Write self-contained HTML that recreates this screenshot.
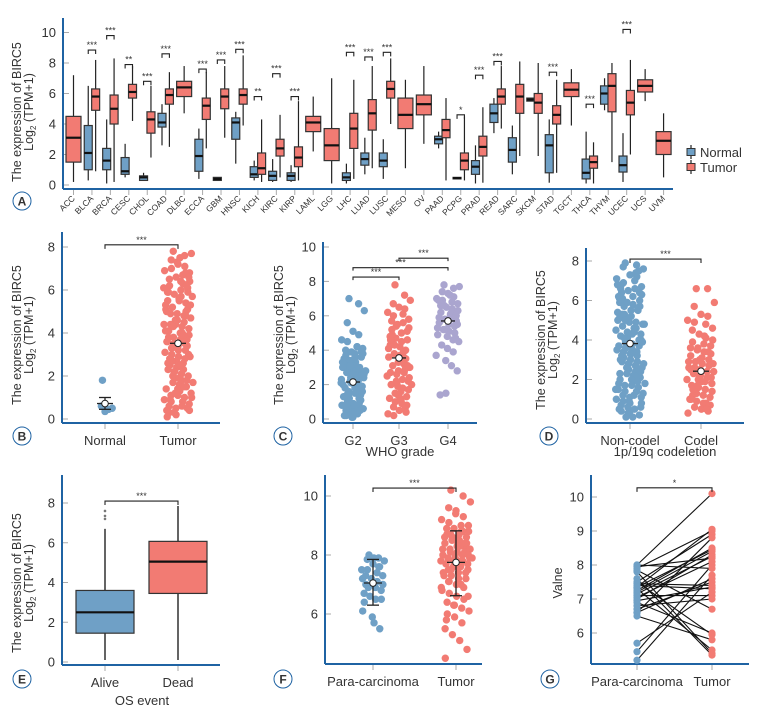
<!DOCTYPE html>
<html><head><meta charset="utf-8">
<style>
html,body{margin:0;padding:0;background:#fff;}
svg{display:block;font-family:"Liberation Sans",sans-serif;}
text{fill:#333;}
</style></head>
<body>
<svg id="fig" width="759" height="716" viewBox="0 0 759 716"></svg>
<script>
// ---------- Panel A data ----------
const aCats=["ACC","BLCA","BRCA","CESC","CHOL","COAD","DLBC","ECCA","GBM","HNSC","KICH","KIRC","KIRP","LAML","LGG","LHC","LUAD","LUSC","MESO","OV","PAAD","PCPG","PRAD","READ","SARC","SKCM","STAD","TGCT","THCA","THYM","UCEC","UCS","UVM"];
const aTumor=[[0.2,1.5,3.1,4.5,7.2],[0.9,4.9,5.8,6.3,8.2],[0.2,4.0,5.0,5.9,8.3],[4.2,5.7,6.1,6.6,7.8],[1.8,3.4,4.3,4.8,6.5],[2.5,5.3,5.9,6.3,7.4],[4.7,5.8,6.4,6.8,7.8],[2.4,4.3,5.2,5.7,7.4],[3.1,5.0,5.8,6.3,7.8],[3.9,5.3,5.9,6.3,8.5],[0.2,0.7,1.1,2.1,4.3],[0.5,1.9,2.4,3.0,4.6],[0.3,1.2,1.8,2.5,5.5],[2.2,3.5,4.1,4.5,5.8],[0.1,1.6,2.6,3.7,7.0],[0.4,2.4,3.7,4.7,6.9],[1.1,3.6,4.7,5.6,7.8],[4.0,5.7,6.3,6.8,8.3],[1.1,3.7,4.6,5.7,6.9],[2.7,4.6,5.3,5.9,7.8],[0.3,3.1,3.6,4.3,5.7],[0.3,1.0,1.6,2.1,4.5],[0.15,1.9,2.5,3.2,5.1],[3.7,5.3,5.8,6.3,7.8],[1.9,4.7,5.8,6.6,8.1],[1.9,4.7,5.4,6.0,8.0],[0.8,4.0,4.6,5.2,6.9],[3.9,5.8,6.25,6.7,7.6],[0.1,1.1,1.5,1.9,2.8],[1.5,4.8,6.5,7.3,8.0],[2.0,4.6,5.4,6.2,8.2],[5.5,6.1,6.5,6.9,7.6],[0.5,2.0,2.9,3.5,4.7]];
const aNormal=[null,[0.3,1.0,2.1,3.9,6.5],[0.1,1.0,1.6,2.4,4.3],[0.5,0.7,0.9,1.8,2.7],[0.3,0.3,0.5,0.6,0.8],[2.6,3.8,4.1,4.7,5.3],null,[0.4,0.9,1.9,3.0,3.7],[0.3,0.3,0.4,0.5,0.5],[1.4,3.0,4.1,4.4,4.8],[0.3,0.5,0.7,1.2,1.6],[0.2,0.3,0.6,0.9,1.7],[0.2,0.3,0.6,0.8,1.3],null,null,[0.1,0.3,0.5,0.8,1.4],[0.7,1.3,1.7,2.1,3.1],[0.4,1.2,1.6,2.1,3.0],null,null,[2.4,2.7,3.0,3.2,3.5],[0.4,0.4,0.45,0.5,0.5],[0.1,0.7,1.2,1.6,2.6],[3.4,4.1,4.7,5.3,5.7],[0.7,1.5,2.3,3.1,3.9],[5.5,5.5,5.6,5.7,5.7],[0.15,0.8,2.6,3.3,4.3],null,[0.1,0.4,0.8,1.7,3.5],[4.9,5.3,6.0,6.5,7.0],[0.2,0.85,1.3,1.9,3.4],null,null];
const aSig=[null,"***","***","**","***","***",null,"***","***","***","**","***","***",null,null,"***","***","***",null,null,null,"*","***","***",null,null,"***",null,"***",null,"***",null,null];
const aSigY=[0,8.85,9.8,7.9,6.8,8.6,0,7.6,8.2,8.9,5.8,7.3,5.8,0,0,8.7,8.4,8.7,0,0,0,4.6,7.2,8.1,0,0,7.4,0,5.3,0,10.2,0,0];
const aTicks=[0,2,4,6,8,10];
// ---------- Panel B ----------
const bCats=["Normal","Tumor"];
const bNormal=[1.8,0.45,0.5,0.6,0.35];
const bTumor=[7.8,7.6,7.7,7.4,7.2,7.1,6.9,7.0,6.7,6.8,6.5,6.6,6.3,6.4,6.2,6.0,6.1,5.9,5.8,5.7,5.9,5.5,5.6,5.4,5.3,5.2,5.5,5.0,5.1,4.9,4.8,4.7,4.9,4.6,4.5,4.4,4.6,4.3,4.2,4.1,4.4,4.0,3.9,3.8,4.0,3.7,3.6,3.5,3.7,3.4,3.3,3.2,3.5,3.1,3.0,2.9,3.2,2.8,2.7,2.6,2.9,2.5,2.4,2.3,2.6,2.2,2.1,2.0,2.3,1.9,1.8,1.7,2.0,1.6,1.5,1.4,1.7,1.3,1.2,1.1,1.4,1.0,0.9,0.8,1.1,0.7,0.6,0.5,0.8,0.4,0.3,0.2,0.5,0.1,0.3,6.4,5.1,3.6,2.2,4.8,5.7,3.3,1.9,6.8,4.1,2.7,3.9,5.3,0.9,7.3,1.5,6.1,4.4,2.4,3.0,5.9,1.2,0.6,6.6,3.8,7.5,6.2,5.0,4.3,2.5,1.8,0.4,3.4,2.8,1.0];
const bMeans=[0.72,3.52];
const bSd=[[0.45,1.0],null];
const bTicks=[0,2,4,6,8];
// ---------- Panel C ----------
const cCats=["G2","G3","G4"];
const cG2=[7.0,6.7,6.3,5.6,5.1,4.9,4.6,4.5,4.2,4.1,4.0,3.9,4.2,3.8,3.7,3.6,3.9,3.5,3.4,3.3,3.6,3.2,3.1,3.0,3.3,2.9,2.8,2.7,3.0,2.6,2.5,2.4,2.7,2.3,2.2,2.1,2.4,2.0,1.9,1.8,2.1,1.7,1.6,1.5,1.8,1.4,1.3,1.2,1.5,1.1,1.0,0.9,1.2,0.8,0.7,0.6,0.9,0.5,0.4,0.3,0.6,0.2,0.1,0.4,0.2,2.2,1.9,2.5,1.3,3.1,0.8,2.8,1.6,3.5,0.5,2.0,1.1,3.8,2.6,1.4,0.3,1.7,2.3,0.9,0.1];
const cG3=[7.8,7.2,6.9,6.7,6.5,6.4,6.2,6.0,6.1,5.8,5.7,5.5,5.6,5.3,5.2,5.0,5.1,4.8,4.7,4.5,4.6,4.3,4.2,4.0,4.1,3.8,3.7,3.5,3.6,3.3,3.2,3.0,3.1,2.8,2.7,2.5,2.6,2.3,2.2,2.0,2.1,1.8,1.7,1.5,1.6,1.3,1.2,1.0,1.1,0.8,0.7,0.5,0.6,0.3,0.2,3.4,2.9,4.4,1.9,3.9,2.4,4.9,1.4,3.6,2.7,5.4,0.9,3.1,4.6,2.2,3.3,2.0,4.3,1.2,0.4];
const cG4=[7.8,7.6,7.7,7.4,7.3,7.1,7.0,6.9,6.8,6.7,6.6,6.5,6.4,6.3,6.2,6.1,6.0,5.9,5.8,5.8,5.7,5.6,5.5,5.4,5.3,5.2,5.1,5.0,4.9,4.8,4.6,4.5,4.3,4.1,3.9,3.7,3.4,3.1,2.8,1.4,1.5,6.2,5.5,6.6,5.9,4.7,6.9,5.2,7.2,6.0];
const cMeans=[2.15,3.55,5.7];
const cTicks=[0,2,4,6,8,10];
// ---------- Panel D ----------
const dCats=["Non-codel","Codel"];
const dNon=[7.9,7.8,7.6,7.7,7.3,7.2,7.1,6.9,7.0,6.7,6.8,6.5,6.6,6.3,6.4,6.2,6.0,6.1,5.9,5.8,5.7,5.9,5.5,5.6,5.4,5.3,5.2,5.5,5.0,5.1,4.9,4.8,4.7,4.9,4.6,4.5,4.4,4.6,4.3,4.2,4.1,4.4,4.0,3.9,3.8,4.0,3.7,3.6,3.5,3.7,3.4,3.3,3.2,3.5,3.1,3.0,2.9,3.2,2.8,2.7,2.6,2.9,2.5,2.4,2.3,2.6,2.2,2.1,2.0,2.3,1.9,1.8,1.7,2.0,1.6,1.5,1.4,1.7,1.3,1.2,1.1,1.4,1.0,0.9,0.8,1.1,0.7,0.6,0.5,0.8,0.4,0.3,0.2,0.5,0.1,0.1,6.4,5.1,3.6,2.2,4.8,5.7,3.3,1.9,6.8,4.1,2.7,3.9,5.3,0.9,7.4,1.5,6.1,4.4,2.4,3.0,5.9,1.2,0.6,6.6,3.8,7.5,6.2,5.0,4.3,2.5,1.8,0.4,3.4,2.8];
const dCodel=[6.6,6.6,5.9,5.7,5.3,5.2,5.0,4.9,4.8,4.6,4.5,4.3,4.1,4.0,3.9,3.8,3.7,3.6,3.5,3.4,3.3,3.2,3.1,3.0,2.9,2.9,2.8,2.7,2.6,2.5,2.4,2.4,2.3,2.2,2.1,2.0,2.0,1.9,1.8,1.7,1.6,1.5,1.4,1.3,1.2,1.1,1.0,0.9,0.8,0.7,0.6,0.5,0.4,0.3,2.6,1.9,3.4,1.2,2.2,0.8,2.8,1.5,3.0,0.5,2.5,1.7,4.2,2.1,1.0,3.6];
const dMeans=[3.82,2.42];
const dTicks=[0,2,4,6,8];
// ---------- Panel E ----------
const eCats=["Alive","Dead"];
const eBoxes=[[0.1,1.45,2.5,3.6,6.7],[0.1,3.45,5.05,6.07,7.85]];
const eOutliers=[[7.2,7.35,7.6],[]];
const eTicks=[0,2,4,6,8];
// ---------- Panel F ----------
const fCats=["Para-carcinoma","Tumor"];
const fPara=[8.0,7.9,7.8,7.85,7.7,7.6,7.5,7.5,7.4,7.3,7.3,7.2,7.1,7.0,7.0,6.9,6.8,6.7,6.6,6.5,6.5,6.4,7.9,7.6,7.2,6.9,5.7,5.5,6.1,5.9];
const fTumor=[10.2,10.0,9.8,9.6,9.5,9.3,9.2,9.1,9.0,9.0,8.9,8.9,8.8,8.8,8.7,8.7,8.6,8.6,8.5,8.5,8.4,8.4,8.3,8.3,8.2,8.2,8.1,8.1,8.0,8.0,8.0,7.9,7.9,7.9,7.8,7.8,7.8,7.7,7.7,7.7,7.6,7.6,7.5,7.5,7.4,7.4,7.3,7.3,7.2,7.2,7.1,7.0,6.9,6.8,6.7,6.6,6.5,6.4,6.3,6.2,6.1,6.0,5.9,5.7,5.5,5.3,5.1,4.8,4.5,8.6,8.3,7.9,8.1,7.6,8.4,7.4,8.7,7.8,8.2,7.5,9.4,8.8,6.9,7.1,8.5,6.6,5.8,6.3,7.0,8.0];
const fMeans=[7.05,7.75];
const fSd=[[6.3,7.85],[6.62,8.82]];
const fTicks=[6,8,10];
// ---------- Panel G ----------
const gCats=["Para-carcinoma","Tumor"];
const gPara=[8.0,7.9,7.8,7.95,7.5,7.4,7.3,7.2,7.1,7.0,6.9,6.7,6.6,6.5,5.7,5.45,5.2,7.45,7.35,7.25,7.6,7.05,6.8,7.85,7.15,6.95,7.5,7.35,6.6,8.0];
const gTumor=[10.1,9.0,5.4,8.2,8.9,7.3,5.5,8.4,7.1,8.3,6.0,7.5,8.8,5.8,7.2,8.0,7.7,7.4,9.05,8.5,5.35,8.1,7.0,6.7,8.25,7.35,5.95,8.45,7.6,7.9];
const gTicks=[6,7,8,9,10];

const RED="#f27b73",BLUE="#6fa0c6",PURP="#aaa5cf",AX="#1f63a3";
const svg=document.getElementById('fig');
const NS="http://www.w3.org/2000/svg";
function mk(tag,attrs,parent){const e=document.createElementNS(NS,tag);for(const k in attrs)e.setAttribute(k,attrs[k]);(parent||svg).appendChild(e);return e;}
function txt(s,x,y,size,anchor,parent,extra){const t=mk('text',Object.assign({x:x,y:y,'font-size':size,'text-anchor':anchor||'middle'},extra||{}),parent);t.textContent=s;return t;}
function lin(v0,v1,p0,p1){return v=>p0+(v-v0)*(p1-p0)/(v1-v0);}
function jit(i,w){return ((((i*37+11)%29)/28)-0.5)*w+((((i*13)%7)/6)-0.5)*w*0.15;}

function axes(g,x0,yTop,yBot,xEnd,ticks,ys,fs){
  mk('line',{x1:x0,y1:yTop,x2:x0,y2:yBot,stroke:AX,'stroke-width':2},g);
  mk('line',{x1:x0,y1:yBot,x2:xEnd,y2:yBot,stroke:AX,'stroke-width':2},g);
  ticks.forEach(t=>{
    const tg=mk('g',{},g);
    
    
    mk('line',{x1:x0+1,y1:ys(t),x2:x0+6,y2:ys(t),stroke:'#aaa','stroke-width':1},tg);
    txt(String(t),x0-7,ys(t)+4.5,fs||13,'end',tg);
  });
}
function xTick(g,x,yBot,label,fs){
  const tg=mk('g',{},g);
  
  
  mk('line',{x1:x,y1:yBot+1,x2:x,y2:yBot+6,stroke:'#aaa','stroke-width':1},tg);
  txt(label,x,yBot+22,fs||13,'middle',tg);
}
function ylab(g,x,y,lines){
  const t=mk('text',{transform:`translate(${x},${y}) rotate(-90)`,'font-size':12.5,'text-anchor':'middle'},g);
  
  
  lines.forEach((l,i)=>{const ts=mk('tspan',{x:0,dy:i?12:0},t);ts.innerHTML=l;});
}
function badge(letter,x,y){
  const g=mk('g',{});
  
  
  mk('circle',{cx:x,cy:y,r:9,fill:'#fff',stroke:AX,'stroke-width':1},g);
  txt(letter,x,y+4.5,12,'middle',g,{'font-weight':'bold'});
}
function bracket(g,xa,xb,y,label,tickLen){
  const bg=mk('g',{},g);
  
  
  const h=tickLen||4;
  mk('path',{d:`M${xa},${y+h}V${y}H${xb}V${y+h}`,fill:'none',stroke:'#222','stroke-width':1.1},bg);
  txt(label,(xa+xb)/2,y-2,9,'middle',bg);
}
function box(g,cx,hw,b,ys,fill,name,lw){
  const bg=mk('g',{},g);
  
  
  mk('line',{x1:cx,y1:ys(b[0]),x2:cx,y2:ys(b[1]),stroke:'#222','stroke-width':lw||1.4},bg);
  mk('line',{x1:cx,y1:ys(b[3]),x2:cx,y2:ys(b[4]),stroke:'#222','stroke-width':lw||1.4},bg);
  mk('rect',{x:cx-hw,y:ys(b[3]),width:hw*2,height:Math.max(1.5,ys(b[1])-ys(b[3])),fill:fill,stroke:'#333','stroke-width':1.2},bg);
  mk('line',{x1:cx-hw,y1:ys(b[2]),x2:cx+hw,y2:ys(b[2]),stroke:'#111','stroke-width':2.2},bg);
}
function dots(g,vals,cx,w,ys,fill,name,r){
  const dg=mk('g',{},g);
  
  
  vals.forEach((v,i)=>{
    const c=mk('circle',{cx:cx+jit(i,w),cy:ys(v),r:r||3.7,fill:fill},dg);
    
    
  });
}
function meanMark(g,cx,m,ys,hw,sd){
  const mg=mk('g',{},g);
  
  
  if(sd){
    mk('line',{x1:cx,y1:ys(sd[0]),x2:cx,y2:ys(sd[1]),stroke:'#222','stroke-width':1.3},mg);
    mk('line',{x1:cx-6,y1:ys(sd[0]),x2:cx+6,y2:ys(sd[0]),stroke:'#222','stroke-width':1.3},mg);
    mk('line',{x1:cx-6,y1:ys(sd[1]),x2:cx+6,y2:ys(sd[1]),stroke:'#222','stroke-width':1.3},mg);
  }
  mk('line',{x1:cx-hw,y1:ys(m),x2:cx+hw,y2:ys(m),stroke:'#222','stroke-width':1.3},mg);
  mk('circle',{cx:cx,cy:ys(m),r:3.3,fill:'#fff',stroke:'#222','stroke-width':1},mg);
}
function panel(name){const g=mk('g',{});return g;}

// ===== Panel A =====
(function(){
  const g=panel('panel-a-pan-cancer-boxplot');
  const ys=lin(0,10,185,32.5);
  const xs=i=>73.5+i*18.44;
  axes(g,63,18,189,673,aTicks,ys,13);
  ylab(g,21,112,["The expression of BIRC5","Log<tspan font-size='8' dy='3'>2</tspan><tspan dy='-3'> (TPM+1)</tspan>"]);
  aCats.forEach((c,i)=>{
    const x=xs(i);
    const tg=mk('g',{},g);
    
    
    mk('line',{x1:x,y1:190,x2:x,y2:195,stroke:'#aaa','stroke-width':1},tg);
    txt(c,x+2,199,8.5,'end',tg,{transform:`rotate(-45 ${x+2} 199)`});
    if(aNormal[i]){
      box(g,x-3.7,4,aNormal[i],ys,BLUE,'box-normal-'+c.toLowerCase(),1.2);
      box(g,x+3.7,4,aTumor[i],ys,RED,'box-tumor-'+c.toLowerCase(),1.2);
    } else box(g,x,7.5,aTumor[i],ys,RED,'box-tumor-'+c.toLowerCase(),1.2);
    if(aSig[i]) bracket(g,x-3.7,x+3.7,ys(aSigY[i]),aSig[i],4);
  });
  const lg=mk('g',{},g);
  
  
  [["Normal",BLUE,152],["Tumor",RED,167]].forEach(([n,c,y])=>{
    const eg=mk('g',{},lg);
    
    
    mk('line',{x1:691,y1:y-7,x2:691,y2:y+7,stroke:'#222','stroke-width':1.2},eg);
    mk('rect',{x:687,y:y-3.5,width:8,height:7,fill:c,stroke:'#333','stroke-width':1},eg);
    txt(n,700,y+5,13,'start',eg);
  });
  badge('A',22,201);
})();

// ===== Panel B =====
(function(){
  const g=panel('panel-b-normal-vs-tumor');
  const ys=lin(0,8,419,247);
  const xs=[105,178];
  axes(g,62,232,423,220,bTicks,ys,13);
  ylab(g,21,335,["The expression of BIRC5","Log<tspan font-size='8' dy='3'>2</tspan><tspan dy='-3'> (TPM+1)</tspan>"]);
  bCats.forEach((c,i)=>xTick(g,xs[i],423,c));
  dots(g,bNormal,xs[0],14,ys,BLUE,'points-normal');
  dots(g,bTumor,xs[1],26,ys,RED,'points-tumor');
  meanMark(g,xs[0],bMeans[0],ys,8,bSd[0]);
  meanMark(g,xs[1],bMeans[1],ys,8,null);
  bracket(g,xs[0],xs[1],ys(8.1),"***",4);
  badge('B',22,436);
})();

// ===== Panel C =====
(function(){
  const g=panel('panel-c-who-grade');
  const ys=lin(0,10,419,247);
  const xs=[353,399,448];
  axes(g,323,242,423,477,cTicks,ys,13);
  ylab(g,283,335,["The expression of BIRC5","Log<tspan font-size='8' dy='3'>2</tspan><tspan dy='-3'> (TPM+1)</tspan>"]);
  cCats.forEach((c,i)=>xTick(g,xs[i],423,c));
  dots(g,cG2,xs[0],22,ys,BLUE,'points-g2');
  dots(g,cG3,xs[1],22,ys,RED,'points-g3');
  dots(g,cG4,xs[2],22,ys,PURP,'points-g4');
  cMeans.forEach((m,i)=>meanMark(g,xs[i],m,ys,7,null));
  bracket(g,xs[0],xs[1],ys(8.25),"***",3);
  bracket(g,xs[0],xs[2],ys(8.8),"***",3);
  bracket(g,xs[1],xs[2],ys(9.35),"***",3);
  txt("WHO grade",400,456,13,'middle',g);
  badge('C',283,436);
})();

// ===== Panel D =====
(function(){
  const g=panel('panel-d-codeletion');
  const ys=lin(0,8,419,261);
  const xs=[630,701];
  axes(g,586,248,423,744,dTicks,ys,13);
  ylab(g,545,340,["The expression of BIRC5","Log<tspan font-size='8' dy='3'>2</tspan><tspan dy='-3'> (TPM+1)</tspan>"]);
  dCats.forEach((c,i)=>xTick(g,xs[i],423,c));
  dots(g,dNon,xs[0],26,ys,BLUE,'points-non-codel');
  dots(g,dCodel,xs[1],26,ys,RED,'points-codel');
  dMeans.forEach((m,i)=>meanMark(g,xs[i],m,ys,8,null));
  bracket(g,xs[0],xs[1],ys(8.1),"***",4);
  txt("1p/19q codeletion",665,456,13,'middle',g);
  badge('D',549,436);
})();

// ===== Panel E =====
(function(){
  const g=panel('panel-e-os-event');
  const ys=lin(0,8,662,503);
  const xs=[105,178];
  axes(g,62,475,665,220,eTicks,ys,13);
  ylab(g,21,583,["The expression of BIRC5","Log<tspan font-size='8' dy='3'>2</tspan><tspan dy='-3'> (TPM+1)</tspan>"]);
  eCats.forEach((c,i)=>xTick(g,xs[i],665,c));
  box(g,xs[0],29,eBoxes[0],ys,BLUE,'box-alive',1.4);
  box(g,xs[1],29,eBoxes[1],ys,RED,'box-dead',1.4);
  eOutliers.forEach((arr,i)=>arr.forEach(v=>{const c=mk('circle',{cx:xs[i],cy:ys(v),r:1.3,fill:'#777'},g);}));
  bracket(g,xs[0],xs[1],ys(8.1),"***",4);
  txt("OS event",142,705,13,'middle',g);
  badge('E',22,679);
})();

// ===== Panel F =====
(function(){
  const g=panel('panel-f-para-vs-tumor');
  const ys=lin(6,10,614,496);
  const xs=[373,456];
  axes(g,325,475,664,482,fTicks,ys,13);
  fCats.forEach((c,i)=>xTick(g,xs[i],664,c));
  dots(g,fPara,xs[0],22,ys,BLUE,'points-para-carcinoma');
  dots(g,fTumor,xs[1],28,ys,RED,'points-tumor');
  fMeans.forEach((m,i)=>meanMark(g,xs[i],m,ys,9,fSd[i]));
  bracket(g,xs[0],xs[1],ys(10.27),"***",4);
  badge('F',283,679);
})();

// ===== Panel G =====
(function(){
  const g=panel('panel-g-paired');
  const ys=lin(6,10,633,497);
  const xs=[637,712];
  axes(g,591,475,664,749,gTicks,ys,13);
  const t=txt("Valne",0,0,12.5,'middle',g,{transform:'translate(562,583) rotate(-90)'});
  
  gCats.forEach((c,i)=>xTick(g,xs[i],664,c));
  const lg=mk('g',{},g);
  
  
  gPara.forEach((v,i)=>{const l=mk('line',{x1:xs[0],y1:ys(v),x2:xs[1],y2:ys(gTumor[i]),stroke:'#111','stroke-width':1.1},lg);});
  dots(g,gPara,xs[0],0,ys,BLUE,'points-para-carcinoma',3.6);
  dots(g,gTumor,xs[1],0,ys,RED,'points-tumor',3.6);
  bracket(g,xs[0],xs[1],ys(10.27),"*",4);
  badge('G',550,679);
})();
</script>
</body></html>
